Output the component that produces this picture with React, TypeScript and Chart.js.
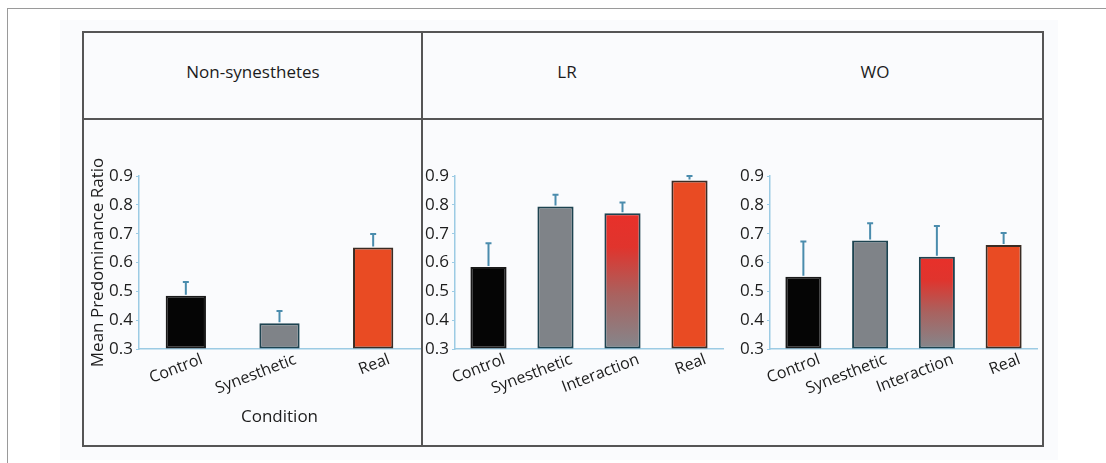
import React, { useEffect, useRef } from "react";
import { Chart, registerables } from "chart.js";

Chart.register(...registerables);

// ---------- data ----------
const panelTitles = ["Non-synesthetes", "LR", "WO"];
const yAxisTitle = "Mean Predominance Ratio";
const xAxisTitle = "Condition";
const yTickValues = [0.3, 0.4, 0.5, 0.6, 0.7, 0.8, 0.9];

const nonSynCategories = ["Control", "Synesthetic", "Real"];
const nonSynMeans = [0.485, 0.389, 0.652];
const nonSynErrors = [0.047, 0.043, 0.047];

const synCategories = ["Control", "Synesthetic", "Interaction", "Real"];
const lrMeans = [0.584, 0.794, 0.771, 0.884];
const lrErrors = [0.083, 0.041, 0.037, 0.016];
const woMeans = [0.551, 0.676, 0.62, 0.661];
const woErrors = [0.122, 0.06, 0.107, 0.041];

// ---------- styles ----------
const FONT = "'Open Sans', 'DejaVu Sans', sans-serif";
const TEXT = "#1c1c1c";
const AXIS_BLUE = "#9ccbe4";
const ERR_COLOR = "#4a8cad";
const fillMap: Record<string, string> = {
  Control: "#050505",
  Synesthetic: "#7f8388",
  Real: "#e94b23",
  Interaction: "#8a8c91",
};
const borderMap: Record<string, string> = {
  Control: "#1a1a1a",
  Synesthetic: "#1d4350",
  Real: "#3a2c24",
  Interaction: "#1d4350",
};

const errorBarsPlugin = {
  id: "errorBars",
  afterDatasetsDraw(chart: any, _args: any, opts: any) {
    const errors: number[] = opts.errors || [];
    const meta = chart.getDatasetMeta(0);
    const y = chart.scales.y;
    const ctx = chart.ctx;
    ctx.save();
    ctx.strokeStyle = ERR_COLOR;
    ctx.lineWidth = 2;
    meta.data.forEach((el: any, i: number) => {
      const v = chart.data.datasets[0].data[i] as number;
      const top = y.getPixelForValue(v + errors[i]);
      ctx.beginPath();
      ctx.moveTo(el.x, el.y - 1);
      ctx.lineTo(el.x, top);
      ctx.moveTo(el.x - 3, top);
      ctx.lineTo(el.x + 3, top);
      ctx.stroke();
    });
    ctx.restore();
  },
};

type PanelProps = {
  categories: string[];
  means: number[];
  errors: number[];
  left: number;
  width: number;
  yAxisWidth: number;
  padRight: number;
  barPct: number;
  showTitles: boolean;
};

function Panel(p: PanelProps) {
  const ref = useRef<HTMLCanvasElement | null>(null);
  useEffect(() => {
    if (!ref.current) return;
    const cats = p.categories;
    const chart = new Chart(ref.current, {
      type: "bar",
      data: {
        labels: cats,
        datasets: [
          {
            data: p.means,
            base: 0.3,
            barPercentage: p.barPct,
            categoryPercentage: 1,
            borderWidth: 2,
            borderSkipped: false,
            borderColor: cats.map((c) => borderMap[c]),
            backgroundColor: (ctx: any) => {
              const cat = cats[ctx.dataIndex];
              if (cat !== "Interaction") return fillMap[cat] || "#888";
              const ch = ctx.chart;
              if (!ch.chartArea || !ch.scales.y) return fillMap[cat];
              const ys = ch.scales.y;
              const top = ys.getPixelForValue(p.means[ctx.dataIndex]);
              const bottom = ys.getPixelForValue(0.3);
              const g = ch.ctx.createLinearGradient(0, top, 0, bottom);
              g.addColorStop(0, "#e8302a");
              g.addColorStop(0.25, "#e0342d");
              g.addColorStop(0.6, "#a9625f");
              g.addColorStop(1, "#84878c");
              return g;
            },
          } as any,
        ],
      },
      options: {
        responsive: false,
        maintainAspectRatio: false,
        animation: false,
        layout: { padding: { top: 56, right: p.padRight, bottom: 0, left: 0 } },
        plugins: {
          legend: { display: false },
          tooltip: { enabled: false },
          errorBars: { errors: p.errors },
        } as any,
        scales: {
          x: {
            grid: { display: false, drawTicks: false },
            border: { color: AXIS_BLUE, width: 1.5 },
            ticks: {
              minRotation: 21,
              maxRotation: 21,
              labelOffset: 16,
              padding: 1,
              color: TEXT,
              font: { family: FONT, size: 16 },
            },
            title: {
              display: p.showTitles,
              text: xAxisTitle,
              color: TEXT,
              font: { family: FONT, size: 17 },
              padding: { top: 0, bottom: 17 },
            },
            afterFit: (s: any) => {
              s.height = 95;
            },
          },
          y: {
            min: 0.3,
            max: 0.9,
            afterBuildTicks: (s: any) => {
              s.ticks = yTickValues.map((v) => ({ value: v }));
            },
            ticks: {
              callback: (v: any) => Number(v).toFixed(1),
              padding: 3,
              color: TEXT,
              font: { family: FONT, size: 17 },
            },
            grid: { drawOnChartArea: false, tickLength: 3, color: AXIS_BLUE },
            border: { color: AXIS_BLUE, width: 1.5 },
            title: {
              display: p.showTitles,
              text: yAxisTitle,
              color: TEXT,
              font: { family: FONT, size: 17 },
              padding: { top: 4, bottom: 0 },
            },
            afterFit: (s: any) => {
              s.width = p.yAxisWidth;
            },
          },
        },
      } as any,
      plugins: [errorBarsPlugin],
    });
    return () => chart.destroy();
  }, []);
  return (
    <canvas
      ref={ref}
      width={p.width}
      height={324}
      style={{ position: "absolute", left: p.left, top: 120, width: p.width, height: 324 }}
    />
  );
}

const titleStyle = (cx: number): React.CSSProperties => ({
  position: "absolute",
  left: cx - 150,
  width: 300,
  top: 60,
  textAlign: "center",
  fontFamily: FONT,
  fontSize: 17,
  color: TEXT,
  lineHeight: "24px",
});

export default function App() {
  return (
    <div
      style={{
        position: "absolute",
        left: 0,
        top: 0,
        width: 1106,
        height: 463,
        background: "#ffffff",
        overflow: "hidden",
      }}
    >
      {/* outer frame lines */}
      <div style={{ position: "absolute", left: 7, top: 8, width: 1099, height: 1, background: "#9a9a9a" }} />
      <div style={{ position: "absolute", left: 7, top: 8, width: 1, height: 455, background: "#9a9a9a" }} />
      {/* faint panel background */}
      <div style={{ position: "absolute", left: 60, top: 20, width: 998, height: 440, background: "#fafbfd" }} />
      {/* inner box */}
      <div
        style={{
          position: "absolute",
          left: 82,
          top: 31,
          width: 958,
          height: 412,
          border: "2px solid #555555",
        }}
      />
      <div style={{ position: "absolute", left: 82, top: 118, width: 960, height: 2, background: "#555555" }} />
      <div style={{ position: "absolute", left: 421, top: 31, width: 2, height: 414, background: "#555555" }} />

      <div style={titleStyle(253)}>{panelTitles[0]}</div>
      <div style={titleStyle(567)}>{panelTitles[1]}</div>
      <div style={titleStyle(875)}>{panelTitles[2]}</div>

      <Panel
        categories={nonSynCategories}
        means={nonSynMeans}
        errors={nonSynErrors}
        left={84}
        width={337}
        yAxisWidth={55}
        padRight={1}
        barPct={0.43}
        showTitles={true}
      />
      <Panel
        categories={synCategories}
        means={lrMeans}
        errors={lrErrors}
        left={424}
        width={314}
        yAxisWidth={31}
        padRight={15}
        barPct={0.54}
        showTitles={false}
      />
      <Panel
        categories={synCategories}
        means={woMeans}
        errors={woErrors}
        left={740}
        width={300}
        yAxisWidth={30}
        padRight={3}
        barPct={0.54}
        showTitles={false}
      />
    </div>
  );
}
